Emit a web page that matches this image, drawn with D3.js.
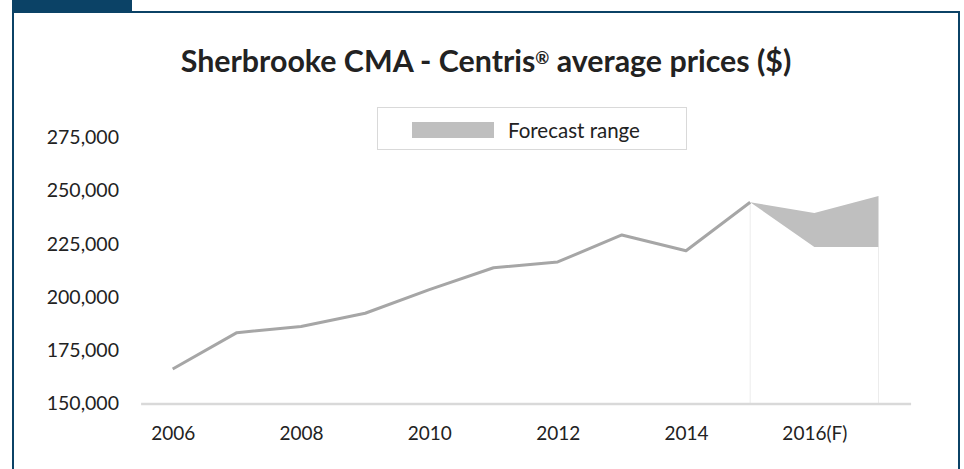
<!DOCTYPE html>
<html>
<head>
<meta charset="utf-8">
<script src="https://cdn.jsdelivr.net/npm/d3@7"></script>
<style>
  html, body { margin: 0; padding: 0; background: #fff; }
  svg { display: block; }
  text { font-family: Lato, "Open Sans", sans-serif; fill: #222; }
</style>
</head>
<body>
<svg id="chart" width="964" height="469"></svg>
<script>
// ---- data ----
const years = ["2006","2007","2008","2009","2010","2011","2012","2013","2014","2015","2016","2017"];
const histYears = ["2006","2007","2008","2009","2010","2011","2012","2013","2014","2015"];
const prices = [166200, 183300, 186200, 192400, 203500, 213800, 216500, 229200, 221800, 244600];
const forecastYears = ["2015","2016","2017"];
const forecastLow  = [244600, 223600, 223600];
const forecastHigh = [244600, 239500, 247500];
const xTickYears = ["2006","2008","2010","2012","2014","2016"];
const xTickLabels = ["2006","2008","2010","2012","2014","2016(F)"];
const yTicks = [150000, 175000, 200000, 225000, 250000, 275000];
const titleText = ["Sherbrooke CMA - Centris", "®", " average prices ($)"];
const legendLabel = "Forecast range";

// ---- layout ----
const svg = d3.select("#chart");
const frameColor = "#0b4266";

// frame
svg.append("rect").attr("x", 12).attr("y", 0).attr("width", 120).attr("height", 12).attr("fill", frameColor);
svg.append("rect").attr("x", 12).attr("y", 11).attr("width", 948).attr("height", 2).attr("fill", frameColor);
svg.append("rect").attr("x", 12).attr("y", 11).attr("width", 2).attr("height", 470).attr("fill", frameColor);
svg.append("rect").attr("x", 958).attr("y", 11).attr("width", 2).attr("height", 470).attr("fill", frameColor);

// scales
const x = d3.scalePoint().domain(years).range([140.6, 910.6]).padding(0.5);
const y = d3.scaleLinear().domain([150000, 275000]).range([403.5, 137.5]);

// title
const title = svg.append("text")
  .attr("x", 486).attr("y", 72)
  .attr("text-anchor", "middle")
  .style("font-weight", "bold")
  .style("font-size", "23px")
  .style("fill", "#222");
title.append("tspan").text(titleText[0]);
title.append("tspan").text(titleText[1]).style("font-size", "17px").attr("dy", -8);
title.append("tspan").text(titleText[2]).attr("dy", 8);
// fit to reference width
const tw = title.node().getComputedTextLength();
if (tw > 0) {
  const fs = 23 * 615 / tw;
  title.style("font-size", fs.toFixed(2) + "px");
}

// legend
svg.append("rect").attr("x", 377.5).attr("y", 107.5).attr("width", 309).attr("height", 42)
  .attr("fill", "#fff").attr("stroke", "#d9d9d9").attr("stroke-width", 1);
svg.append("rect").attr("x", 412).attr("y", 122).attr("width", 82).attr("height", 16).attr("fill", "#bfbfbf");
svg.append("text").attr("x", 508).attr("y", 137.5).style("font-size", "20.5px").text(legendLabel);

// y axis labels
const yAxis = d3.axisLeft(y).tickValues(yTicks).tickSize(0).tickPadding(0).tickFormat(d3.format(","));
const gy = svg.append("g").attr("transform", "translate(119,0)").call(yAxis);
gy.select(".domain").remove();
gy.selectAll("text").style("font-size", "19.5px").style("font-family", "Lato, sans-serif").attr("fill", "#222");

// drop lines at forecast edges
const dropYears = [forecastYears[0], forecastYears[forecastYears.length - 1]];
const dropVals = [forecastLow[0], forecastLow[forecastLow.length - 1]];
svg.selectAll(".drop").data(dropYears).enter().append("line")
  .attr("x1", d => x(d)).attr("x2", d => x(d))
  .attr("y1", y(150000)).attr("y2", (d, i) => y(dropVals[i]))
  .attr("stroke", "#ececec").attr("stroke-width", 1);

// forecast area
const fData = forecastYears.map((yr, i) => ({ yr, lo: forecastLow[i], hi: forecastHigh[i] }));
svg.append("path").datum(fData)
  .attr("fill", "#bfbfbf")
  .attr("d", d3.area().x(d => x(d.yr)).y0(d => y(d.lo)).y1(d => y(d.hi)));

// x axis
const xAxis = d3.axisBottom(x).tickValues(xTickYears).tickSize(0).tickPadding(0)
  .tickFormat(d => xTickLabels[xTickYears.indexOf(d)]);
const gx = svg.append("g").attr("transform", "translate(0," + y(150000) + ")").call(xAxis);
gx.select(".domain").attr("stroke", "#d9d9d9").attr("stroke-width", 2.5);
gx.selectAll("text").attr("dy", null).attr("y", 36).style("font-size", "19px")
  .style("font-family", "Lato, sans-serif").attr("fill", "#222");

// price line
const hData = histYears.map((yr, i) => ({ yr, v: prices[i] }));
svg.append("path").datum(hData)
  .attr("fill", "none").attr("stroke", "#a6a6a6").attr("stroke-width", 3)
  .attr("stroke-linejoin", "round")
  .attr("d", d3.line().x(d => x(d.yr)).y(d => y(d.v)));
</script>
</body>
</html>
